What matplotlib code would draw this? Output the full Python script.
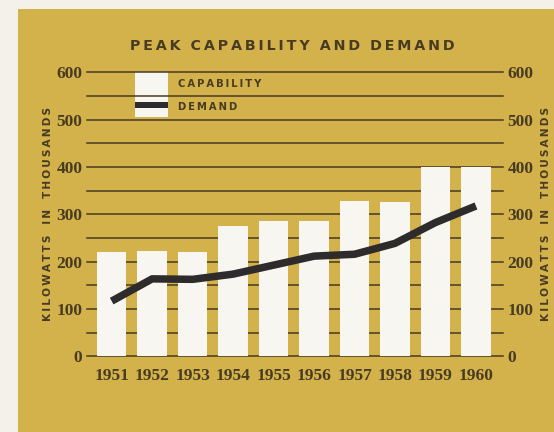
import matplotlib.pyplot as plt
from matplotlib.patches import Rectangle
import numpy as np

years = ["1951", "1952", "1953", "1954", "1955", "1956", "1957", "1958", "1959", "1960"]
capability = [221, 222, 221, 276, 287, 287, 328, 326, 400, 400]
demand = [117, 164, 163, 174, 193, 212, 216, 239, 283, 318]
y_ticks = [0, 100, 200, 300, 400, 500, 600]
grid_levels = np.arange(0, 601, 50)

gold = "#d3b14b"
paper = "#f3f1ea"
ink = "#473b22"
bar_white = "#f7f6f0"
line_dark = "#2d2b2c"


def spaced(s, gap="\u2009", word_gap="   "):
    # letter-spaced caps, wider gaps between words
    return word_gap.join(gap.join(w) for w in s.split(" "))


fig = plt.figure(figsize=(5.54, 4.32), dpi=100, facecolor=paper)
fig.patches.append(Rectangle((18 / 554, 0), 1, 1 - 9 / 432, transform=fig.transFigure,
                             facecolor=gold, edgecolor="none", zorder=-5))

ax = fig.add_axes([0.1563, 0.1748, 0.7525, 0.6574])
ax.set_zorder(2)
ax.set_facecolor("none")
for s in ax.spines.values():
    s.set_visible(False)

x = np.arange(len(years))
ax.set_xlim(-0.62, 9.68)
ax.set_ylim(0, 600)

# horizontal rules every 50
for lv in grid_levels:
    ax.axhline(lv, color=ink, lw=1.1, zorder=2, clip_on=False)

ax.bar(x, capability, width=0.73, color=bar_white, zorder=3)
ax.plot(x, demand, color=line_dark, lw=5.4, solid_capstyle="butt",
        solid_joinstyle="round", zorder=5)

# key block
ax.add_patch(Rectangle((0.575, 505), 0.815, 95, facecolor=bar_white,
                       edgecolor="none", zorder=1))
ax.add_patch(Rectangle((0.575, 524), 0.815, 14, facecolor=line_dark,
                       edgecolor="none", zorder=4))
ax.text(1.64, 576, spaced("CAPABILITY"), fontsize=7.2, fontweight="bold",
        color=ink, va="center", ha="left", zorder=6)
ax.text(1.64, 527, spaced("DEMAND"), fontsize=7.2, fontweight="bold",
        color=ink, va="center", ha="left", zorder=6)

tick_font = dict(family="Liberation Serif", weight="bold", size=12.5)
ax.set_xticks(x)
ax.set_xticklabels(years, color=ink, fontdict=tick_font)
ax.set_yticks(y_ticks)
ax.set_yticklabels([str(v) for v in y_ticks], color=ink, fontdict=tick_font)
ax.tick_params(axis="x", length=0, pad=8)
ax.tick_params(axis="y", length=0, pad=3, labelright=True, right=False)

ylab = spaced("KILOWATTS IN THOUSANDS")
fig.text(48 / 554, 1 - 214 / 432, ylab, rotation=90, fontsize=7.6,
         fontweight="bold", color=ink, ha="center", va="center")
fig.text(546 / 554, 1 - 214 / 432, ylab, rotation=90, fontsize=7.6,
         fontweight="bold", color=ink, ha="center", va="center")

fig.text(292 / 554, 1 - 46 / 432, spaced("PEAK CAPABILITY AND DEMAND", word_gap="  "),
         fontsize=10.3, fontweight="heavy", color=ink, ha="center", va="center")

fig.savefig("out.png", dpi=100, facecolor=paper)
